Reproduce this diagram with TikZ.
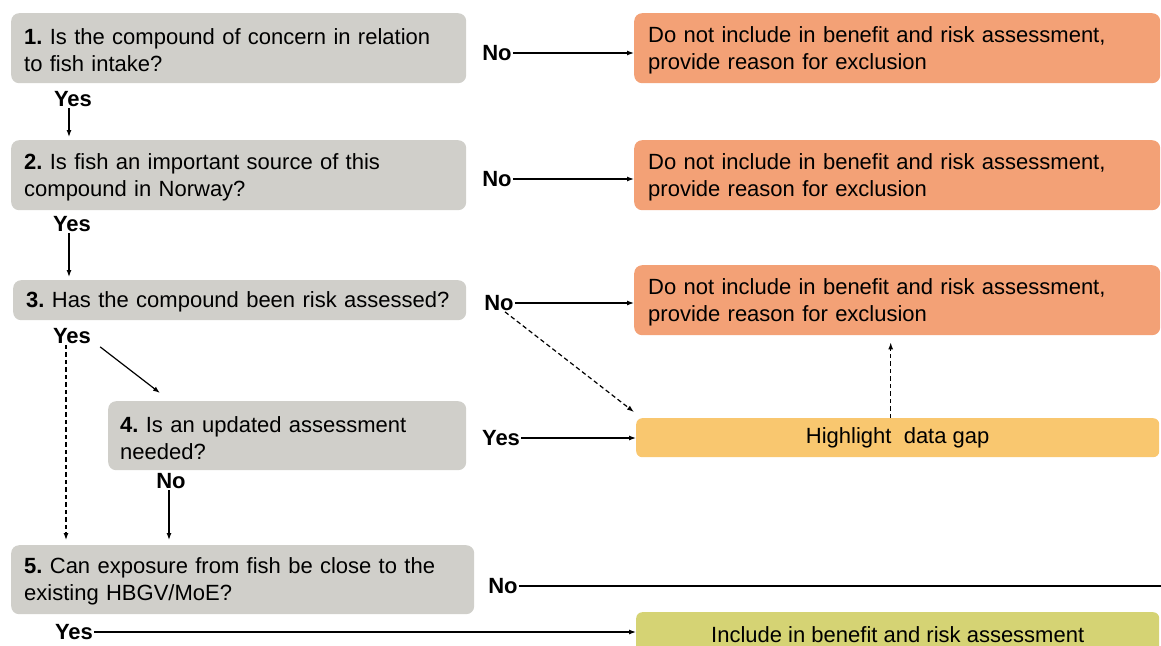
\documentclass[tikz,border=0pt]{standalone}
\usepackage{fontspec}
\setmainfont{Liberation Sans}
\usepackage{tikz}
\usetikzlibrary{arrows.meta}
\usetikzlibrary{positioning}
\usetikzlibrary{calc}
\definecolor{qgray}{RGB}{208,207,202}
\definecolor{exorange}{RGB}{243,161,118}
\definecolor{gapyellow}{RGB}{249,199,111}
\definecolor{incgreen}{RGB}{213,211,116}
\newcommand{\flowfont}{\fontsize{22}{27}\selectfont\frenchspacing\hyphenpenalty=10000}
\tikzset{
    question/.style={fill=qgray, rounded corners=8pt, anchor=north west, align=left,
        inner xsep=13pt, inner ysep=0pt, execute at begin node={\rule{0pt}{20pt}}},
    exclude/.style={fill=exorange, rounded corners=8pt, anchor=north west, align=left,
        inner xsep=14pt, inner ysep=0pt, text width=498pt, minimum height=70pt,
        execute at begin node={\rule{0pt}{20pt}}},
    gapbox/.style={fill=gapyellow, rounded corners=6pt, anchor=north west, align=center,
        inner sep=0pt, minimum width=523pt, minimum height=39pt},
    includebox/.style={fill=incgreen, rounded corners=6pt, anchor=north west, align=center,
        inner sep=0pt, minimum width=523pt, minimum height=44pt},
    answer/.style={font=\flowfont\bfseries, inner sep=1pt},
    link/.style={draw=black, line width=1.2pt, -{Latex[length=7pt,width=5pt]}},
    maybelink/.style={link, dash pattern=on 4.5pt off 3pt},
    plainlink/.style={draw=black, line width=1.2pt},
}

\begin{document}
\begin{tikzpicture}[x=1pt, y=-1pt, font=\flowfont]
\useasboundingbox (0,0) rectangle (1161,645);
% questions
\node[question, text width=429pt, minimum height=70pt] (q1) at (11,13)
    {\textbf{1.} Is the compound of concern in relation\\to fish intake?};
\node[question, text width=429pt, minimum height=70pt] (q2) at (11,140)
    {\textbf{2.} Is fish an important source of this\\compound in Norway?};
\node[question, text width=427pt, minimum height=40pt] (q3) at (13,280)
    {\textbf{3.} Has the compound been risk assessed?};
\node[question, inner xsep=12pt, text width=334pt, minimum height=69pt] (q4) at (108,401)
    {\textbf{4.} Is an updated assessment\\needed?};
\node[question, text width=437pt, minimum height=69pt] (q5) at (11,545)
    {\textbf{5.} Can exposure from fish be close to the\\existing HBGV/MoE?};
% outcomes
\node[exclude] (out1) at (634,13) {Do not include in benefit and risk assessment,\\provide reason for exclusion};
\node[exclude] (out2) at (634,140) {Do not include in benefit and risk assessment,\\provide reason for exclusion};
\node[exclude] (out3) at (634,265) {Do not include in benefit and risk assessment,\\provide reason for exclusion};
\node[gapbox] (gap) at (636,418) {Highlight~ data gap};
\node[includebox] (incl) at (636,612) {Include in benefit and risk assessment};
\coordinate (rightedge) at (1161,586);
% answers
\node[answer] (no1) at (497,53) {No};
\node[answer] (yes1) at (73,99) {Yes};
\node[answer] (no2) at (497,179) {No};
\node[answer] (yes2) at (72,224) {Yes};
\node[answer] (no3) at (499,303) {No};
\node[answer] (yes3) at (72,336) {Yes};
\node[answer] (yes4) at (501,438) {Yes};
\node[answer] (no4) at (171,481) {No};
\node[answer] (no5) at (503,586) {No};
\node[answer] (yes5) at (74,632) {Yes};
% connectors
\draw[link] (no1.east) -- (no1.east -| out1.west);
\draw[link] ([xshift=-4pt]yes1.south) -- ([xshift=-4pt,yshift=3pt]yes1.south |- q2.north);
\draw[link] (no2.east) -- (no2.east -| out2.west);
\draw[link] ([xshift=-3pt]yes2.south) -- ([xshift=-3pt,yshift=3pt]yes2.south |- q3.north);
\draw[link] (no3.east) -- (no3.east -| out3.west);
\draw[maybelink] ([xshift=6pt]no3.south) -- ([xshift=-2pt,yshift=6pt]gap.north west);
\draw[link] ([xshift=8pt,yshift=-2pt]yes3.south east) -- ($(q4.north west)+(52,-8)$);
\draw[maybelink] ([xshift=-6pt]yes3.south) -- ([xshift=-6pt,yshift=5pt]yes3.south |- q5.north);
\draw[link] (yes4.east) -- (yes4.east -| gap.west);
\draw[maybelink] ([xshift=-7pt]gap.north) -- ([xshift=-7pt,yshift=-7pt]gap.north |- out3.south);
\draw[link] ([xshift=-2pt]no4.south) -- ([xshift=-2pt,yshift=5pt]no4.south |- q5.north);
\draw[plainlink] (no5.east) -- (rightedge);
\draw[link] (yes5.east) -- (yes5.east -| incl.west);
\end{tikzpicture}
\end{document}
